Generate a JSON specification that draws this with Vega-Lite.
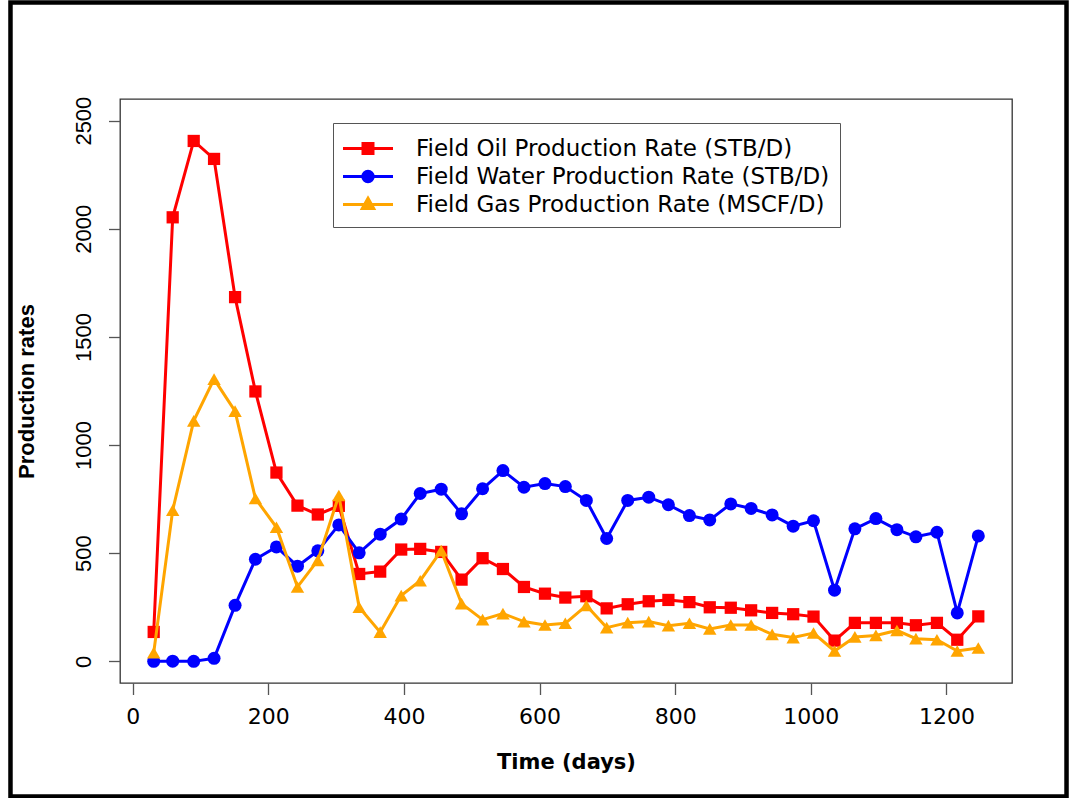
{
  "$schema": "https://vega.github.io/schema/vega-lite/v6.json",
  "width": 892,
  "height": 584,
  "autosize": "none",
  "padding": {"left": 120, "top": 99, "right": 58, "bottom": 115},
  "background": "white",
  "config": {
    "view": {"stroke": "#333333", "strokeWidth": 1.3},
    "legend": {
      "orient": "none",
      "legendX": 213,
      "legendY": 24,
      "strokeColor": "#555555",
      "fillColor": "white",
      "padding": 10,
      "labelFont": "DejaVu Sans",
      "labelFontSize": 23,
      "labelColor": "black",
      "labelOffset": 32.5,
      "labelLimit": 1000,
      "symbolSize": 784,
      "symbolOffset": 9.5,
      "symbolStrokeWidth": 3,
      "rowPadding": 0
    }
  },
  "layer": [
    {
      "data": {"values": [{}]},
      "mark": {"type": "rect", "fill": "transparent", "stroke": "black", "strokeWidth": 4.5, "clip": false},
      "encoding": {
        "x": {"datum": -180.2, "type": "quantitative", "title": "Time (days)"},
        "x2": {"datum": 1377.1},
        "y": {"datum": 3046, "type": "quantitative", "title": "Production rates"},
        "y2": {"datum": -624.6}
      }
    },
    {
      "data": {
        "values": [
          {"day": 31, "oil": 136, "water": 0, "gas": 40},
          {"day": 59, "oil": 2053, "water": 1, "gas": 699},
          {"day": 90, "oil": 2406, "water": 0, "gas": 1112},
          {"day": 120, "oil": 2323, "water": 14, "gas": 1305},
          {"day": 151, "oil": 1684, "water": 259, "gas": 1157},
          {"day": 181, "oil": 1248, "water": 472, "gas": 753},
          {"day": 212, "oil": 873, "water": 529, "gas": 620},
          {"day": 243, "oil": 720, "water": 440, "gas": 344},
          {"day": 273, "oil": 679, "water": 511, "gas": 467},
          {"day": 304, "oil": 719, "water": 631, "gas": 767},
          {"day": 334, "oil": 404, "water": 502, "gas": 250},
          {"day": 365, "oil": 415, "water": 588, "gas": 135},
          {"day": 396, "oil": 517, "water": 658, "gas": 304},
          {"day": 424, "oil": 520, "water": 776, "gas": 373},
          {"day": 455, "oil": 506, "water": 796, "gas": 512},
          {"day": 485, "oil": 378, "water": 682, "gas": 267},
          {"day": 516, "oil": 477, "water": 798, "gas": 193},
          {"day": 546, "oil": 427, "water": 882, "gas": 221},
          {"day": 577, "oil": 344, "water": 805, "gas": 184},
          {"day": 608, "oil": 313, "water": 822, "gas": 168},
          {"day": 638, "oil": 295, "water": 808, "gas": 176},
          {"day": 669, "oil": 301, "water": 744, "gas": 258},
          {"day": 699, "oil": 245, "water": 568, "gas": 156},
          {"day": 730, "oil": 264, "water": 744, "gas": 179},
          {"day": 761, "oil": 278, "water": 759, "gas": 184},
          {"day": 790, "oil": 284, "water": 724, "gas": 165},
          {"day": 821, "oil": 274, "water": 674, "gas": 176},
          {"day": 851, "oil": 250, "water": 654, "gas": 150},
          {"day": 882, "oil": 248, "water": 728, "gas": 168},
          {"day": 912, "oil": 236, "water": 707, "gas": 168},
          {"day": 943, "oil": 224, "water": 677, "gas": 125},
          {"day": 974, "oil": 218, "water": 625, "gas": 110},
          {"day": 1004, "oil": 207, "water": 650, "gas": 131},
          {"day": 1035, "oil": 96, "water": 329, "gas": 48},
          {"day": 1065, "oil": 178, "water": 613, "gas": 113},
          {"day": 1096, "oil": 178, "water": 660, "gas": 120},
          {"day": 1127, "oil": 178, "water": 609, "gas": 143},
          {"day": 1155, "oil": 167, "water": 576, "gas": 105},
          {"day": 1186, "oil": 178, "water": 597, "gas": 100},
          {"day": 1216, "oil": 100, "water": 224, "gas": 48},
          {"day": 1247, "oil": 208, "water": 580, "gas": 62}
        ]
      },
      "transform": [{"fold": ["oil", "water", "gas"], "as": ["series", "rate"]}],
      "encoding": {
        "x": {
          "field": "day",
          "type": "quantitative",
          "title": "Time (days)",
          "scale": {"domain": [-18.7, 1296.7], "nice": false, "zero": false},
          "axis": {
            "values": [0, 200, 400, 600, 800, 1000, 1200],
            "format": "d",
            "grid": false,
            "domain": false,
            "tickColor": "#555555",
            "tickWidth": 1.3,
            "tickSize": 11.5,
            "labelFont": "DejaVu Sans",
            "labelFontSize": 22,
            "labelColor": "black",
            "labelPadding": 12,
            "labelFlush": false,
            "labelOverlap": false,
            "titleFont": "DejaVu Sans",
            "titleFontSize": 21,
            "titleFontWeight": "bold",
            "titleColor": "black",
            "titlePadding": 24
          }
        },
        "y": {
          "field": "rate",
          "type": "quantitative",
          "title": "Production rates",
          "scale": {"domain": [-100, 2600], "nice": false, "zero": false},
          "axis": {
            "values": [0, 500, 1000, 1500, 2000, 2500],
            "format": "d",
            "grid": false,
            "domain": false,
            "tickColor": "#555555",
            "tickWidth": 1.3,
            "tickSize": 11.5,
            "labelAngle": -90,
            "labelAlign": "center",
            "labelBaseline": "alphabetic",
            "labelPadding": 18,
            "labelFont": "Liberation Sans",
            "labelFontSize": 22,
            "labelColor": "black",
            "labelFlush": false,
            "labelOverlap": false,
            "titleFont": "Liberation Sans",
            "titleFontSize": 22,
            "titleFontWeight": "bold",
            "titleColor": "black",
            "titlePadding": 34
          }
        }
      },
      "layer": [
        {
          "transform": [{"filter": "datum.series === 'oil'"}],
          "mark": {"type": "line", "color": "#FF0000", "strokeWidth": 3},
          "encoding": {}
        },
        {
          "transform": [{"filter": "datum.series === 'oil'"}],
          "mark": {"type": "point", "shape": "square", "filled": true, "color": "#FF0000", "opacity": 1, "size": 150},
          "encoding": {}
        },
        {
          "transform": [{"filter": "datum.series === 'water'"}],
          "mark": {"type": "line", "color": "#0000FF", "strokeWidth": 3},
          "encoding": {}
        },
        {
          "transform": [{"filter": "datum.series === 'water'"}],
          "mark": {"type": "point", "shape": "circle", "filled": true, "color": "#0000FF", "opacity": 1, "size": 169},
          "encoding": {}
        },
        {
          "transform": [{"filter": "datum.series === 'gas'"}],
          "mark": {"type": "line", "color": "#FFA500", "strokeWidth": 3},
          "encoding": {}
        },
        {
          "transform": [{"filter": "datum.series === 'gas'"}],
          "mark": {"type": "point", "shape": "triangle-up", "filled": true, "color": "#FFA500", "opacity": 1, "size": 180},
          "encoding": {}
        },
        {
          "transform": [{"filter": "false"}],
          "mark": {"type": "point", "filled": true, "opacity": 1, "strokeWidth": 3},
          "encoding": {
            "fill": {
              "field": "series", "type": "nominal", "title": null,
              "scale": {"domain": ["oil", "water", "gas"], "range": ["#FF0000", "#0000FF", "#FFA500"]},
              "legend": {"labelExpr": "datum.value === 'oil' ? 'Field Oil Production Rate (STB/D)' : datum.value === 'water' ? 'Field Water Production Rate (STB/D)' : 'Field Gas Production Rate (MSCF/D)'"}
            },
            "stroke": {
              "field": "series", "type": "nominal", "title": null,
              "scale": {"domain": ["oil", "water", "gas"], "range": ["#FF0000", "#0000FF", "#FFA500"]},
              "legend": {"labelExpr": "datum.value === 'oil' ? 'Field Oil Production Rate (STB/D)' : datum.value === 'water' ? 'Field Water Production Rate (STB/D)' : 'Field Gas Production Rate (MSCF/D)'"}
            },
            "shape": {
              "field": "series", "type": "nominal", "title": null,
              "scale": {"domain": ["oil", "water", "gas"], "range": ["M-1.786,0H1.786M-0.357,-0.357H0.357V0.357H-0.357Z", "M-1.786,0H1.786M-0.371,0A0.371,0.371,0,1,1,0.371,0A0.371,0.371,0,1,1,-0.371,0Z", "M-1.786,0H1.786M0,-0.443L0.407,0.286H-0.407Z"]},
              "legend": {"labelExpr": "datum.value === 'oil' ? 'Field Oil Production Rate (STB/D)' : datum.value === 'water' ? 'Field Water Production Rate (STB/D)' : 'Field Gas Production Rate (MSCF/D)'"}
            }
          }
        }
      ]
    }
  ]
}
